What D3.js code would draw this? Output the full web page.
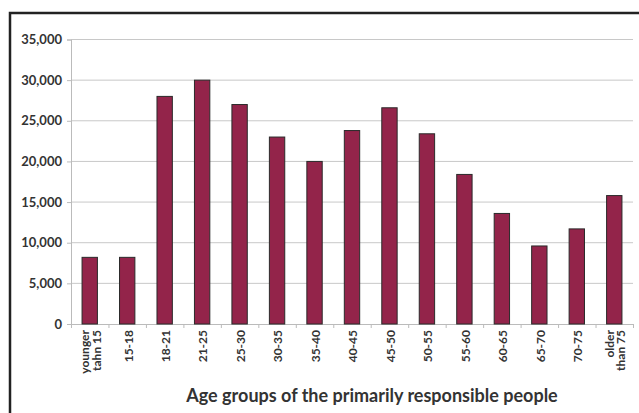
<!DOCTYPE html>
<html>
<head>
<meta charset="utf-8">
<script src="https://cdn.jsdelivr.net/npm/d3@7"></script>
<style>
  body { margin: 0; background: #fff; }
  svg { display: block; }
  text { font-family: Lato, "Open Sans", sans-serif; font-weight: bold; fill: #333; }
</style>
</head>
<body>
<div id="chart"></div>
<script>
// data
var categories = ["younger tahn 15", "15-18", "18-21", "21-25", "25-30", "30-35", "35-40",
  "40-45", "45-50", "50-55", "55-60", "60-65", "65-70", "70-75", "older than 75"];
var labelLines = [["younger", "tahn 15"], ["15-18"], ["18-21"], ["21-25"], ["25-30"], ["30-35"], ["35-40"],
  ["40-45"], ["45-50"], ["50-55"], ["55-60"], ["60-65"], ["65-70"], ["70-75"], ["older", "than 75"]];
var values = [8200, 8200, 28000, 30000, 27000, 23000, 20000,
  23800, 26600, 23400, 18400, 13600, 9600, 11700, 15800];
var yTicks = [0, 5000, 10000, 15000, 20000, 25000, 30000, 35000];
var axisTitle = "Age groups of the primarily responsible people";

var W = 639, H = 413;
var plot = { left: 71, right: 633, top: 39.5, bottom: 324 };

var svg = d3.select("#chart").append("svg")
  .attr("width", W).attr("height", H);

// outer frame, runs off the right and bottom edges
svg.append("rect")
  .attr("x", 10).attr("y", 13)
  .attr("width", 640).attr("height", 420)
  .attr("fill", "none").attr("stroke", "#222").attr("stroke-width", 2.5);

var x = d3.scaleBand().domain(categories).range([plot.left, plot.right]).paddingInner(0.59).paddingOuter(0.295);
var xb = d3.scaleBand().domain(categories).range([plot.left, plot.right]);
var y = d3.scaleLinear().domain([0, 35000]).range([plot.bottom, plot.top]);

// gridlines
svg.append("g").selectAll("line").data(yTicks.filter(function(d) { return d > 0; }))
  .enter().append("line")
  .attr("x1", plot.left).attr("x2", plot.right)
  .attr("y1", function(d) { return y(d); }).attr("y2", function(d) { return y(d); })
  .attr("stroke", "#c8c8c8").attr("stroke-width", 1);

// y axis
var yAxis = svg.append("g")
  .attr("transform", "translate(" + plot.left + ",0)")
  .call(d3.axisLeft(y).tickValues(yTicks).tickSize(4).tickPadding(5).tickFormat(d3.format(",")));
yAxis.select(".domain").attr("stroke", "#bbb");
yAxis.selectAll(".tick line").attr("stroke", "#bbb");
yAxis.selectAll(".tick text").style("font-size", "13px").attr("fill", "#333");

// x axis line and ticks at band edges
svg.append("line")
  .attr("x1", plot.left).attr("x2", plot.right + 1)
  .attr("y1", plot.bottom + 0.5).attr("y2", plot.bottom + 0.5)
  .attr("stroke", "#bbb");
var edges = categories.map(function(c) { return xb(c); }).concat([plot.right]);
svg.append("g").selectAll("line").data(edges).enter().append("line")
  .attr("x1", function(d) { return d + 0.5; }).attr("x2", function(d) { return d + 0.5; })
  .attr("y1", plot.bottom).attr("y2", plot.bottom + 4)
  .attr("stroke", "#bbb");

// bars
svg.append("g").selectAll("rect").data(values).enter().append("rect")
  .attr("x", function(d, i) { return x(categories[i]); })
  .attr("y", function(d) { return y(d); })
  .attr("width", x.bandwidth())
  .attr("height", function(d) { return plot.bottom - y(d); })
  .attr("fill", "#93244a")
  .attr("stroke", "#2a2a2a").attr("stroke-width", 1);

// x labels, rotated
var lbl = svg.append("g").selectAll("g").data(labelLines).enter().append("g")
  .attr("transform", function(d, i) {
    return "translate(" + (xb(categories[i]) + xb.bandwidth() / 2 + 1) + "," + (plot.bottom + 6) + ") rotate(-90)";
  });
lbl.each(function(lines) {
  var g = d3.select(this);
  var n = lines.length;
  lines.forEach(function(t, k) {
    g.append("text")
      .attr("text-anchor", "end")
      .attr("x", 0)
      .attr("y", (k - (n - 1) / 2) * 11.5)
      .attr("dy", "0.36em")
      .style("font-size", "12px")
      .text(t);
  });
});

// axis title
svg.append("text")
  .attr("x", 372).attr("y", 402)
  .attr("text-anchor", "middle")
  .style("font-size", "18px")
  .text(axisTitle);
</script>
</body>
</html>
